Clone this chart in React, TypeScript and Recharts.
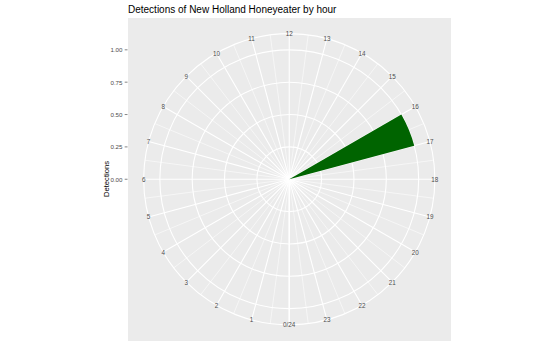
import { RadialBarChart, RadialBar, PolarAngleAxis, PolarRadiusAxis, PolarGrid } from 'recharts';

// hour bins (start of each hour) and detection counts
const hourBins = ['0', '1', '2', '3', '4', '5', '6', '7', '8', '9', '10', '11', '12', '13', '14', '15', '16', '17', '18', '19', '20', '21', '22', '23'];
const detections = [0, 0, 0, 0, 0, 0, 0, 0, 0, 0, 0, 0, 0, 0, 0, 0, 1, 0, 0, 0, 0, 0, 0, 0];

// theta axis ticks (24 closes the circle, it shares the spot of 0)
const hourTicks = [0, 1, 2, 3, 4, 5, 6, 7, 8, 9, 10, 11, 12, 13, 14, 15, 16, 17, 18, 19, 20, 21, 22, 23, 24];
const hourLabels = ['0/24', '1', '2', '3', '4', '5', '6', '7', '8', '9', '10', '11', '12', '13', '14', '15', '16', '17', '18', '19', '20', '21', '22', '23'];
const halfHourTicks = [0, 0.5, 1.5, 2.5, 3.5, 4.5, 5.5, 6.5, 7.5, 8.5, 9.5, 10.5, 11.5, 12.5, 13.5, 14.5, 15.5, 16.5, 17.5, 18.5, 19.5, 20.5, 21.5, 22.5, 23.5, 24];

// radius ticks; 1.125 is ggplot's outer ring (0.45 vs 0.4)
const radiusTicks = [0, 0.25, 0.5, 0.75, 1];
const radiusMax = 1.125;

const binData = hourBins.map((bin, i) => ({ bin, binEnd: Number(bin) + 1, detections: detections[i] }));
// a clockwise category wedge in recharts covers the band that ends at its tick,
// so order the bins by their end hour
const data = [binData[23], ...binData.slice(0, 23)];

const FONT = '"Liberation Sans", Arial, Helvetica, sans-serif';
const CX = 289.25;
const CY = 179.25;

const HourTick = (props: any) => {
  const { x, y, payload } = props;
  const idx = hourTicks.indexOf(payload.value);
  if (idx < 0 || idx >= hourLabels.length) return null;
  // recharts pushes labels out by tickSize; put them back on the ring
  const dx = x - CX;
  const dy = y - CY;
  const r = Math.hypot(dx, dy) || 1;
  const k = (r - 8) / r;
  return (
    <text x={CX + dx * k} y={CY + dy * k} textAnchor="middle" dominantBaseline="central" fontSize={6.3} fill="#4D4D4D" fontFamily={FONT}>
      {hourLabels[idx]}
    </text>
  );
};

const RadiusTick = (props: any) => {
  const { y, payload } = props;
  if (!radiusTicks.includes(payload.value)) return null;
  return (
    <g>
      <line x1={124.7} x2={127.5} y1={y} y2={y} stroke="#333" strokeWidth={0.6} />
      <text x={122.5} y={y} textAnchor="end" dominantBaseline="central" fontSize={6.2} fill="#4D4D4D" fontFamily={FONT}>
        {payload.value.toFixed(2)}
      </text>
    </g>
  );
};

export default function App() {
  return (
    <div style={{ position: 'absolute', left: 0, top: 0, width: 553, height: 360, background: '#fff', fontFamily: FONT }}>
      <div style={{ position: 'absolute', left: 127.5, top: 17.5, width: 323.5, height: 323.5, background: '#EBEBEB' }} />
      <div style={{ position: 'absolute', left: 128, top: 3.5, fontSize: 10, color: '#000', whiteSpace: 'nowrap' }}>
        Detections of New Holland Honeyeater by hour
      </div>
      <div
        style={{
          position: 'absolute', left: 106, top: 179, fontSize: 7.6, color: '#000', whiteSpace: 'nowrap',
          transform: 'translate(-50%, -50%) rotate(-90deg)',
        }}
      >
        Detections
      </div>
      <div style={{ position: 'absolute', left: 0, top: 0 }}>
        <RadialBarChart
          width={553}
          height={360}
          cx={CX}
          cy={CY}
          innerRadius={0}
          outerRadius={145.6}
          startAngle={-90}
          endAngle={-450}
          layout="centric"
          data={data}
          barCategoryGap={0}
          margin={{ top: 0, right: 0, bottom: 0, left: 0 }}
        >
          <PolarAngleAxis angleAxisId="minor" type="number" dataKey="binEnd" domain={[0, 24]} allowDataOverflow ticks={halfHourTicks} tick={false} axisLine={false} tickLine={false} />
          <PolarAngleAxis angleAxisId="major" type="number" dataKey="binEnd" domain={[0, 24]} allowDataOverflow ticks={hourTicks} tick={HourTick} axisLine={false} tickLine={false} />
          <PolarAngleAxis angleAxisId="bins" type="category" dataKey="bin" tick={false} axisLine={false} tickLine={false} />
          <PolarRadiusAxis type="number" domain={[0, radiusMax]} allowDataOverflow ticks={[...radiusTicks, radiusMax]} angle={90} axisLine={false} tickLine={false} tick={RadiusTick} />
          <PolarGrid angleAxisId="minor" polarRadius={[]} stroke="#FFFFFF" strokeWidth={0.55} />
          <PolarGrid angleAxisId="major" gridType="circle" stroke="#FFFFFF" strokeWidth={1.1} />
          <RadialBar angleAxisId="bins" dataKey="detections" fill="#006400" stroke="none" isAnimationActive={false} />
        </RadialBarChart>
      </div>
    </div>
  );
}
